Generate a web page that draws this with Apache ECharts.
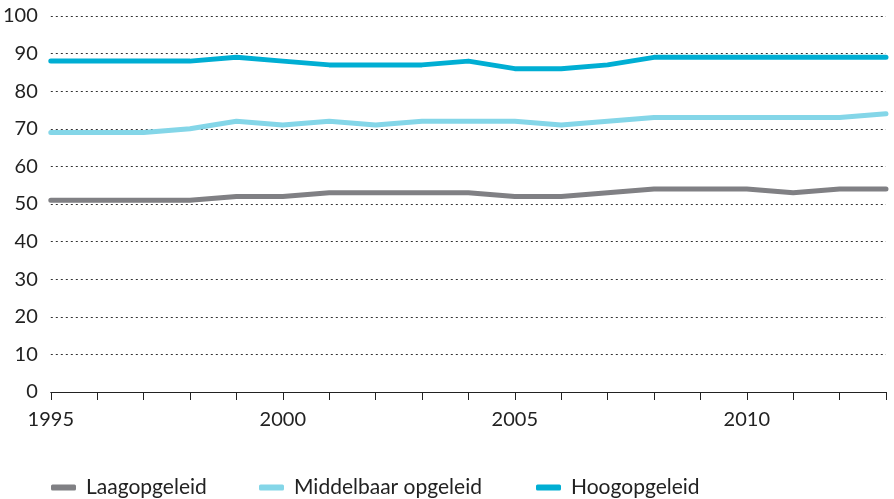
<!DOCTYPE html>
<html>
<head>
<meta charset="utf-8">
<script src="https://cdn.jsdelivr.net/npm/echarts@6/dist/echarts.min.js"></script>
<style>
  html, body { margin: 0; padding: 0; background: #fff; }
  #chart { width: 894px; height: 499px; }
</style>
</head>
<body>
<div id="chart"></div>
<script>
// jaren op de x-as
const years = ['1995', '1996', '1997', '1998', '1999', '2000', '2001', '2002', '2003', '2004',
  '2005', '2006', '2007', '2008', '2009', '2010', '2011', '2012', '2013'];

// percentages per opleidingsniveau
const laag = [51, 51, 51, 51, 52, 52, 53, 53, 53, 53, 52, 52, 53, 54, 54, 54, 53, 54, 54];
const middel = [69, 69, 69, 70, 72, 71, 72, 71, 72, 72, 72, 71, 72, 73, 73, 73, 73, 73, 74];
const hoog = [88, 88, 88, 88, 89, 88, 87, 87, 87, 88, 86, 86, 87, 89, 89, 89, 89, 89, 89];

const names = ['Laagopgeleid', 'Middelbaar opgeleid', 'Hoogopgeleid'];
const colors = ['#808084', '#84d6e8', '#00aed3'];

const font = "Lato, 'Noto Sans', sans-serif";

const chart = echarts.init(document.getElementById('chart'), null, { renderer: 'canvas' });

function line(name, data, color) {
  return {
    name: name,
    type: 'line',
    data: data,
    symbol: 'none',
    lineStyle: { color: color, width: 5, cap: 'round', join: 'round' },
    itemStyle: { color: color }
  };
}

// één legenda per reeks, zodat de plaatsing overeenkomt
const legendLeft = [46, 254, 531];
const legends = names.map((n, i) => ({
  top: 472,
  left: legendLeft[i],
  icon: 'roundRect',
  itemWidth: 25,
  itemHeight: 6,
  textStyle: { fontFamily: font, fontSize: 21, color: '#222', padding: [0, 0, 0, 5] },
  data: [n]
}));

chart.setOption({
  animation: false,
  grid: { left: 50, right: 8, top: 16, bottom: 107, containLabel: false },
  legend: legends,
  xAxis: {
    type: 'category',
    data: years,
    boundaryGap: false,
    axisLine: { lineStyle: { color: '#222', width: 1 } },
    axisTick: { interval: 0, length: 8, lineStyle: { color: '#222' } },
    axisLabel: {
      interval: 4,
      margin: 18,
      fontFamily: font,
      fontSize: 20,
      color: '#222'
    },
    splitLine: { show: false }
  },
  yAxis: {
    type: 'value',
    min: 0,
    max: 100,
    interval: 10,
    axisLine: { show: false },
    axisTick: { show: false },
    axisLabel: { margin: 13, fontFamily: font, fontSize: 20, color: '#222' },
    splitLine: { lineStyle: { color: '#333', type: [2, 3], width: 1 } }
  },
  series: [
    line(names[0], laag, colors[0]),
    line(names[1], middel, colors[1]),
    line(names[2], hoog, colors[2])
  ]
});
</script>
</body>
</html>
